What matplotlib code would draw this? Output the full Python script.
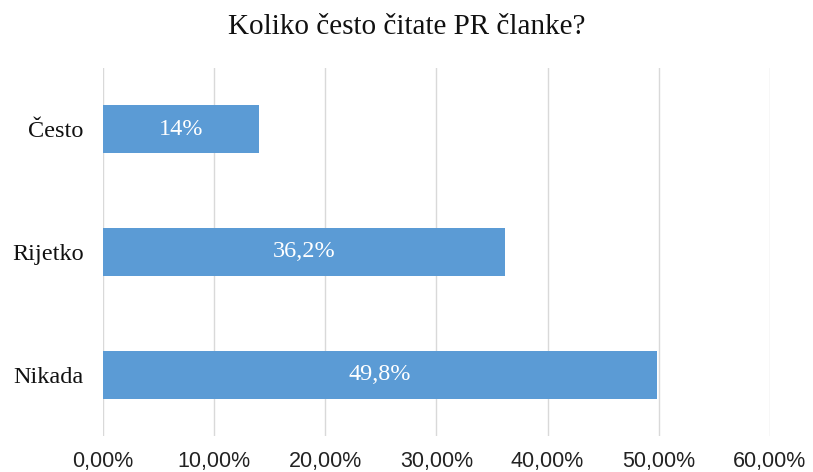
import matplotlib.pyplot as plt
import numpy as np

# data
categories = ["Nikada", "Rijetko", "Često"]
values = [0.498, 0.362, 0.14]
bar_labels = ["49,8%", "36,2%", "14%"]
x_ticks = [0.0, 0.1, 0.2, 0.3, 0.4, 0.5, 0.6]
x_tick_labels = ["0,00%", "10,00%", "20,00%", "30,00%", "40,00%", "50,00%", "60,00%"]

BAR_COLOR = "#5B9BD5"
GRID_COLOR = "#D9D9D9"
SERIF = "Liberation Serif"
SANS = "Liberation Sans"

fig = plt.figure(figsize=(8.13, 4.72), dpi=100)
ax = fig.add_axes([0.1267, 0.0763, 0.8203, 0.7797])

y = np.arange(len(categories))
ax.barh(y, values, height=0.39, color=BAR_COLOR, zorder=3)

for yi, v, lab in zip(y, values, bar_labels):
    ax.text(v / 2, yi, lab, ha="center", va="center", color="white",
            fontsize=17.5, family=SERIF, zorder=4)

ax.set_xlim(0, 0.6)
ax.set_ylim(-0.5, len(categories) - 0.5)
ax.set_xticks(x_ticks)
ax.set_xticklabels(x_tick_labels, family=SANS, fontsize=15.5, color="#222222")
ax.set_yticks(y)
ax.set_yticklabels(categories, family=SERIF, fontsize=17.5, color="#111111")
ax.tick_params(axis="both", length=0)
ax.tick_params(axis="x", pad=11)
ax.tick_params(axis="y", pad=14)

ax.grid(axis="x", color=GRID_COLOR, linewidth=1, zorder=0)
for s in ax.spines.values():
    s.set_visible(False)

fig.text(0.5, 0.942, "Koliko često čitate PR članke?", ha="center", va="center",
         family=SERIF, fontsize=21, color="#111111")

fig.savefig("out.png", dpi=100)
